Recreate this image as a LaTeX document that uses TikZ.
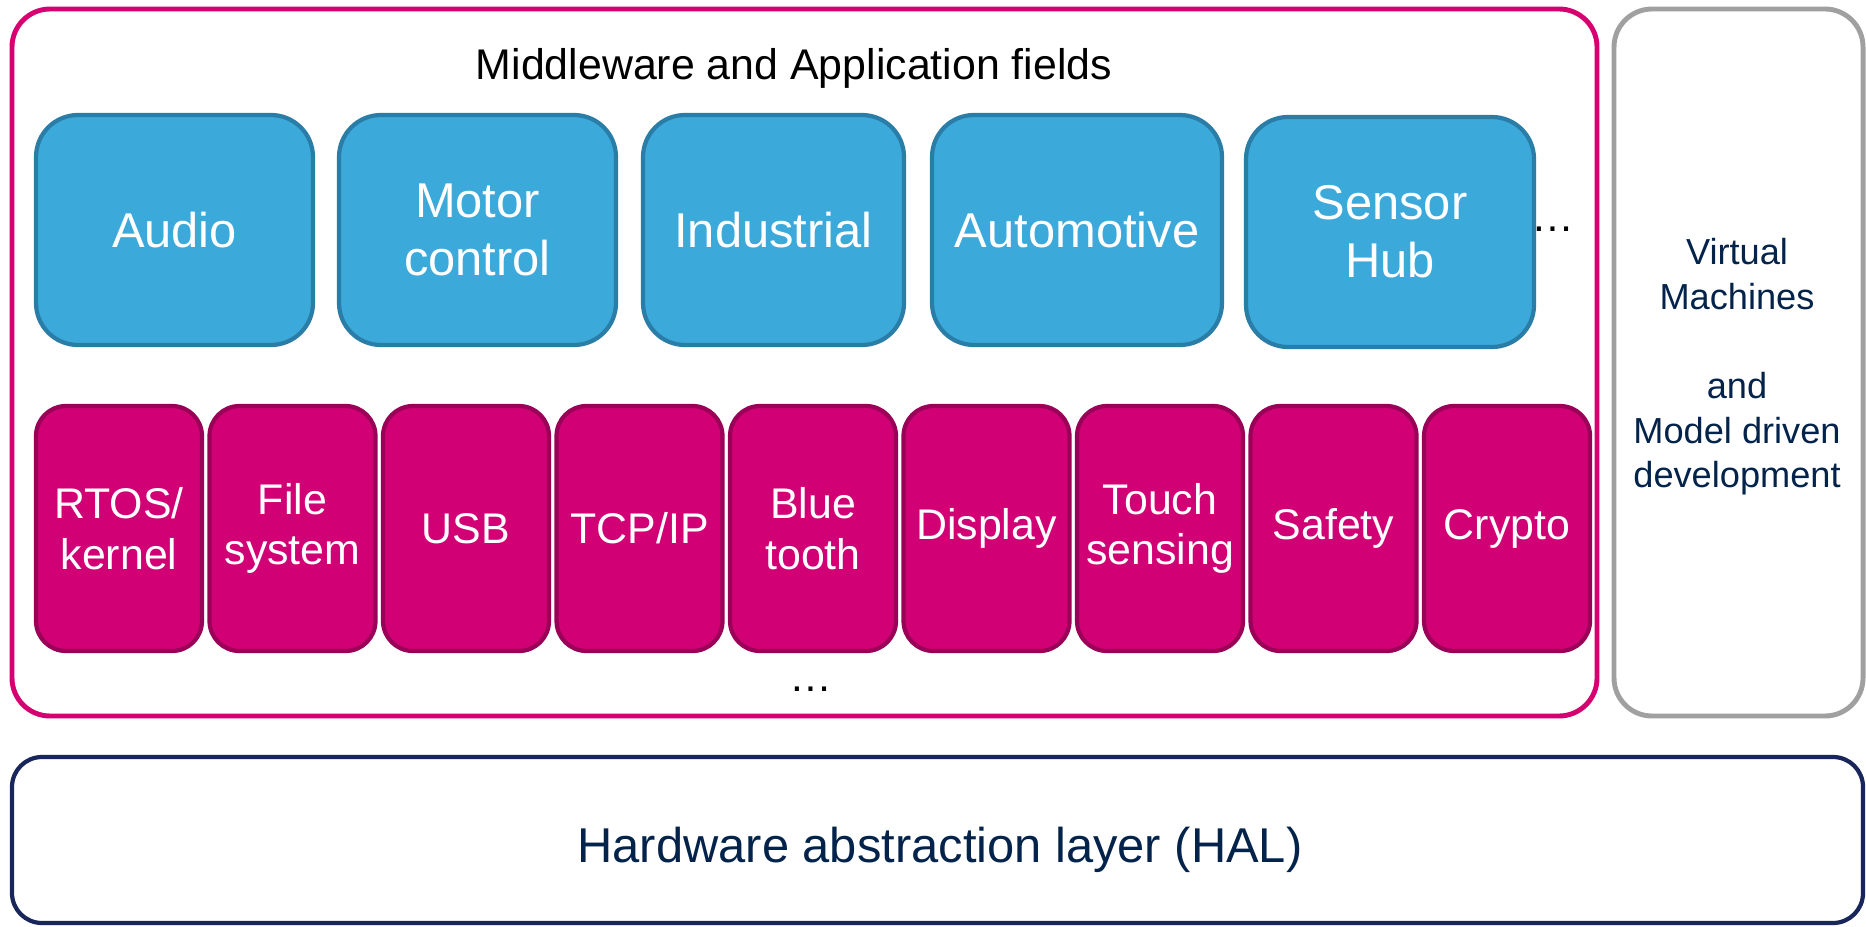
\documentclass[tikz,border=0pt]{standalone}
\usepackage{fontspec}
\setmainfont{Liberation Sans}

\definecolor{appblue}{RGB}{60,169,219}
\definecolor{appblueline}{RGB}{42,125,166}
\definecolor{mwpink}{RGB}{209,0,116}
\definecolor{mwpinkline}{RGB}{155,0,88}
\definecolor{framepink}{RGB}{214,0,112}
\definecolor{framegrey}{RGB}{160,160,160}
\definecolor{stnavy}{RGB}{3,35,75}
\definecolor{halline}{RGB}{24,38,92}

\tikzset{
	appbox/.style={draw=appblueline, fill=appblue, line width=1.2pt, rounded corners=0.42cm,
		minimum height=2.30cm, inner sep=0pt, align=center, text=white,
		font=\fontsize{13.9}{16.5}\selectfont},
	mwbox/.style={draw=mwpinkline, fill=mwpink, line width=1.2pt, rounded corners=0.3cm,
		minimum width=1.66cm, minimum height=2.45cm, inner sep=0pt, align=center, text=white,
		font=\fontsize{12.2}{14.4}\selectfont},
	dots/.style={inner sep=0pt, anchor=base, font=\fontsize{12.2}{14.4}\selectfont}
}

\begin{document}
\begin{tikzpicture}
			%%%%% START %%%%%
			\useasboundingbox (0, 0) rectangle (18.66, 9.26);
			
			\draw[line width=1.4pt, color=framepink, rounded corners=0.38cm] (0.12, 9.17) rectangle (15.97, 2.10);
			\node[dots] (mwtitle) at (7.94, 8.46) {Middleware and Application fields};
			
			\node[appbox, minimum width=2.77cm] (audio) at (1.745, 6.96) {Audio};
			\node[appbox, minimum width=2.77cm] (motor) at (4.775, 6.96) {Motor\\control};
			\node[appbox, minimum width=2.61cm] (industrial) at (7.735, 6.96) {Industrial};
			\node[appbox, minimum width=2.90cm] (automotive) at (10.77, 6.96) {Automotive};
			\node[appbox, minimum width=2.88cm] (sensorhub) at (13.90, 6.94) {Sensor\\Hub};
			\node[dots] (appdots) at (15.53, 6.94) {\dots};
			
			\node[mwbox] (rtos) at (1.19, 3.975) {RTOS/\\kernel};
			\node[mwbox] (filesys) at (2.925, 3.975) {File\\system};
			\node[mwbox] (usb) at (4.66, 3.975) {USB};
			\node[mwbox] (tcpip) at (6.395, 3.975) {TCP/IP};
			\node[mwbox] (bluetooth) at (8.13, 3.975) {Blue\\tooth};
			\node[mwbox] (display) at (9.865, 3.975) {Display};
			\node[mwbox] (touch) at (11.60, 3.975) {Touch\\sensing};
			\node[mwbox] (safety) at (13.335, 3.975) {Safety};
			\node[mwbox] (crypto) at (15.07, 3.975) {Crypto};
			\node[dots] (mwdots) at (8.11, 2.35) {\dots};
			
			% side box and bottom layer
			\node[draw=framegrey, line width=1.4pt, rounded corners=0.38cm, minimum width=2.49cm, minimum height=7.07cm,
				inner sep=0pt] (vmachines) at (17.385, 5.635) {};
			\node[inner sep=0pt, align=center, text=stnavy, font=\fontsize{10.3}{12.7}\selectfont] (vmtext) at (17.37, 5.59)
				{Virtual\\Machines\\\mbox{}\\and\\Model driven\\development};
			
			\node[draw=halline, line width=1.2pt, rounded corners=0.3cm, minimum width=18.51cm, minimum height=1.66cm,
				inner sep=0pt] (hal) at (9.375, 0.86) {};
			\node[dots, text=stnavy, font=\fontsize{13.9}{16.5}\selectfont] (haltext) at (9.40, 0.64)
				{Hardware abstraction layer (HAL)};
			
			%%%%% END %%%%%
\end{tikzpicture}
\end{document}
